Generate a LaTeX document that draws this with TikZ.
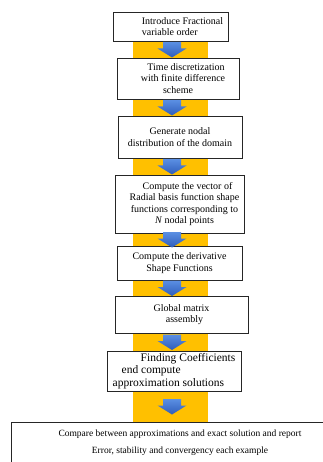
\documentclass[tikz,border=0pt]{standalone}
\usepackage{fontspec}
\setmainfont{Liberation Serif}
\usetikzlibrary{calc}
\definecolor{bandyellow}{HTML}{FFC000}
\definecolor{arrowtop}{HTML}{5B8FE3}
\definecolor{arrowbot}{HTML}{2F5DBA}

\begin{document}
\begin{tikzpicture}[x=1pt, y=-1pt,
    stepbox/.style={draw=black!85, line width=0.9pt, fill=white, align=center,
      font=\fontsize{10}{11.5}\selectfont, inner sep=0pt},
    blockarrow/.style={top color=arrowtop, bottom color=arrowbot, draw=none}]
  \useasboundingbox[fill=white] (0,0) rectangle (323,462);
  % yellow band behind the steps
  \fill[bandyellow] (133,41) rectangle (208,423);
  \coordinate (spine) at (172,0);
  \node[stepbox, align=left, minimum width=115pt, minimum height=29pt]
    (b1) at (170.5,26.5) {\hspace*{24pt}Introduce Fractional\\\hspace*{24pt}variable order};
  \node[stepbox, minimum width=122pt, minimum height=41pt]
    (b2) at (178,78.5) {\hspace*{16pt}Time discretization\\\hspace*{10pt}with finite difference\\scheme};
  \node[stepbox, minimum width=124pt, minimum height=42pt]
    (b3) at (180,137) {Generate nodal\\distribution of the domain};
  \node[stepbox, minimum width=129pt, minimum height=58pt]
    (b4) at (179.5,204) {\hspace*{16pt}Compute the vector of\\\hspace*{10pt}Radial basis function shape\\\hspace*{10pt}functions corresponding to\\\hspace*{10pt}\textit{N} nodal points};
  \node[stepbox, minimum width=125pt, minimum height=34pt]
    (b5) at (179.5,263) {Compute the derivative\\Shape Functions};
  \node[stepbox, minimum width=133pt, minimum height=37pt]
    (b6) at (181.5,314.5) {Global matrix\\\hspace*{6pt}assembly};
  \node[stepbox, align=left, minimum width=134pt, minimum height=40pt, font=\fontsize{11.5}{12.5}\selectfont]
    (b7) at (174,371) {\hspace*{28pt}Finding Coefficients\\\hspace*{9pt}end compute\\approximation solutions};
  \node[stepbox, minimum width=338pt, minimum height=42pt, font=\fontsize{9.5}{11}\selectfont]
    (b8) at (180,443) {Compare between approximations and exact solution and report\\[6pt]Error, stability and convergency each example};
  % block arrows between the steps
  \foreach \i/\j in {1/2,2/3,3/4,4/5,5/6,6/7,7/8} {
    \coordinate (a\i) at ($(b\i.south -| spine)!0.5!(b\j.north -| spine)$);
    \shade[blockarrow] (a\i) ++(-9,-7.5) -- ++(18,0) -- ++(0,6.5) -- ++(5.5,0)
      -- ++(-14.5,9) -- ++(-14.5,-9) -- ++(5.5,0) -- cycle;
  }
\end{tikzpicture}
\end{document}
